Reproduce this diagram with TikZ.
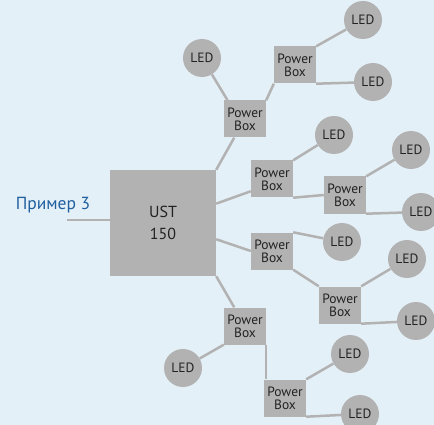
\documentclass[tikz,border=0pt]{standalone}
\usepackage{fontspec}
\setmainfont{PT Sans}
\definecolor{bgblue}{HTML}{E4F0F7}
\definecolor{boxgray}{HTML}{B2B2B2}
\definecolor{txtblue}{HTML}{1F5F9F}
\definecolor{txtdark}{HTML}{222222}
\tikzset{
  ctrl/.style={fill=boxgray, minimum size=106pt, inner sep=0pt, align=center,
    text=txtdark, font=\fontsize{16}{22}\selectfont},
  pbox/.style={fill=boxgray, minimum width=42pt, minimum height=37pt, inner sep=0pt,
    align=center, text=txtdark, font=\fontsize{13.5}{13}\selectfont},
  led/.style={circle, fill=boxgray, minimum size=38pt, inner sep=0pt,
    text=txtdark, font=\fontsize{13.5}{14}\selectfont},
  wire/.style={draw=boxgray, line width=2.5pt}
}
\begin{document}
\begin{tikzpicture}[x=1pt,y=-1pt]
    % Fondo
    \fill[bgblue] (0,0) rectangle (434,425);
    \useasboundingbox (0,0) rectangle (434,425);
    % Controlador
    \node[ctrl] (ust) at (163,223) {UST\\150};
    \node[text=txtblue, font=\fontsize{17.5}{18}\selectfont] (label) at (53,205) {Пример 3};
    \coordinate (in) at (67,220);
    % Power Box
    \node[pbox] (pb1) at (245,119) {Power\\Box};
    \node[pbox] (pb8) at (295,65) {Power\\Box};
    \node[pbox] (pb2) at (272,179) {Power\\Box};
    \node[pbox] (pb3) at (345,195) {Power\\Box};
    \node[pbox] (pb4) at (272,251) {Power\\Box};
    \node[pbox] (pb5) at (340,305) {Power\\Box};
    \node[pbox] (pb6) at (245,326) {Power\\Box};
    \node[pbox] (pb7) at (285,398) {Power\\Box};
    % LED
    \node[led] (l1) at (202,58) {LED};
    \node[led] (l2) at (363,20) {LED};
    \node[led] (l3) at (373,82) {LED};
    \node[led] (l4) at (334,135) {LED};
    \node[led] (l5) at (411,150) {LED};
    \node[led] (l6) at (421,212) {LED};
    \node[led] (l7) at (342,242) {LED};
    \node[led] (l8) at (407,259) {LED};
    \node[led] (l9) at (416,321) {LED};
    \node[led] (l10) at (183,368) {LED};
    \node[led] (l11) at (350,354) {LED};
    \node[led] (l12) at (360,414) {LED};
    % Conexiones
    \draw[wire] (in) -- (in -| ust.west);
    \draw[wire] (ust.north east) -- (pb1.240);
    \draw[wire] (ust.20) -- (pb2.210);
    \draw[wire] (ust.-17) -- (pb4.west);
    \draw[wire] (ust.south east) -- (pb6.120);
    \draw[wire] (pb1.133) -- (l1);
    \draw[wire] (pb1.north east) -- (pb8.south west);
    \draw[wire] (pb8.north east) -- (l2);
    \draw[wire] (pb8.south east) -- (l3);
    \draw[wire] (pb2.north east) -- (l4);
    \draw[wire] (pb2.south east) -- (pb3.west);
    \draw[wire] (pb3.north east) -- (l5);
    \draw[wire] (pb3.south east) -- (l6);
    \draw[wire] (pb4.north east) -- (l7);
    \draw[wire] (pb4.south east) -- (pb5.north west);
    \draw[wire] (pb5.north east) -- (l8);
    \draw[wire] (pb5.south east) -- (l9);
    \draw[wire] (pb6.south west) -- (l10);
    \draw[wire] (pb6.south east) -- (pb6.south east |- pb7.north);
    \draw[wire] (pb7.north east) -- (l11);
    \draw[wire] (pb7.south east) -- (l12);
\end{tikzpicture}
\end{document}
